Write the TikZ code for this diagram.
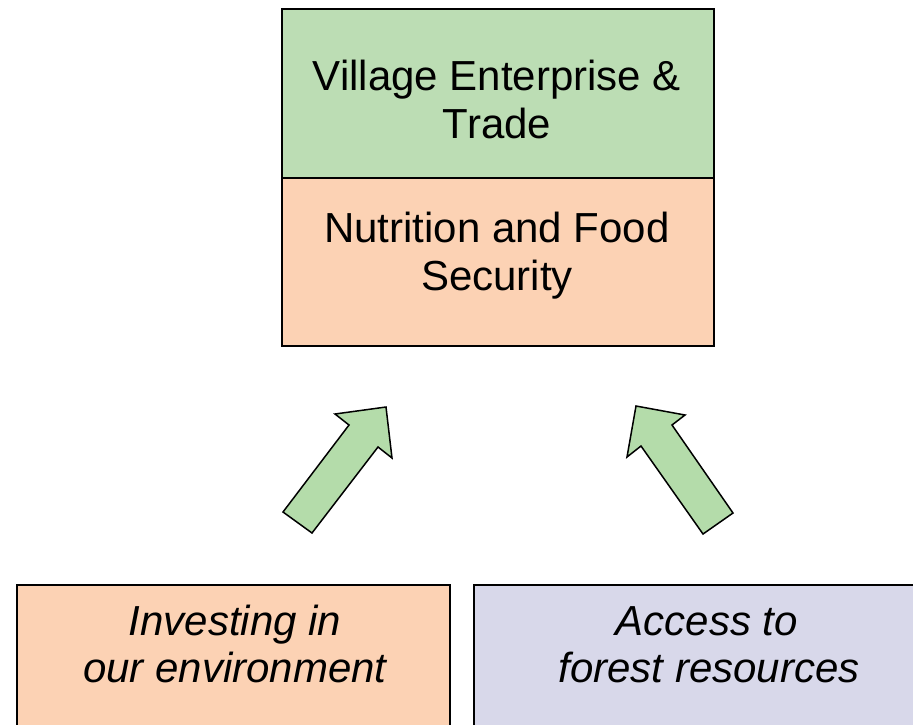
\documentclass[tikz,border=0pt]{standalone}
\usepackage{fontspec}
\setmainfont{Liberation Sans}
\definecolor{boxgreen}{HTML}{BCDDB4}
\definecolor{boxorange}{HTML}{FCD2B4}
\definecolor{boxblue}{HTML}{D8D8EA}
\definecolor{arrowgreen}{HTML}{B4DCAA}
\begin{document}
\begin{tikzpicture}[x=1pt,y=-1pt,
  box/.style={draw=black,line width=1.6pt,rectangle,inner sep=0pt,anchor=north west},
  lbl/.style={anchor=base,inner sep=0pt,font=\fontsize{42}{48}\selectfont},
  ilbl/.style={lbl,font=\fontsize{42}{48}\selectfont\itshape},
  blockarrow/.style={draw=black,line width=1.5pt,fill=arrowgreen,line join=miter}]
\useasboundingbox (0,0) rectangle (913,724);
\clip (0,0) rectangle (913,724);
% top stack
\node[box,fill=boxgreen,minimum width=432pt,minimum height=169pt] (vet) at (281,8) {};
\node[box,fill=boxorange,minimum width=432pt,minimum height=168pt] (nfs) at (281,177) {};
\node[lbl] (vet1) at (497,90) {Village Enterprise \&};
\node[lbl] (vet2) at (497,138) {Trade};
\node[lbl] (nfs1) at (497,242) {Nutrition and Food};
\node[lbl] (nfs2) at (497,290) {Security};
% bottom boxes
\node[box,fill=boxorange,minimum width=433pt,minimum height=200pt] (inv) at (16,584) {};
\node[box,fill=boxblue,minimum width=470pt,minimum height=200pt] (acc) at (473,584) {};
\node[ilbl] (inv1) at (235,635) {Investing in};
\node[ilbl] (inv2) at (235,682) {our environment};
\node[ilbl] (acc1) at (707,635) {Access to};
\node[ilbl] (acc2) at (709,682) {forest resources};
% block arrows
\draw[blockarrow] (283,512) -- (349,425) -- (335,414) -- (386,407) -- (392,458) -- (378,447) -- (312,533) -- cycle;
\draw[blockarrow] (733,513) -- (672,425) -- (685,415) -- (636,406) -- (627,457) -- (641,446) -- (703,534) -- cycle;
\end{tikzpicture}
\end{document}
